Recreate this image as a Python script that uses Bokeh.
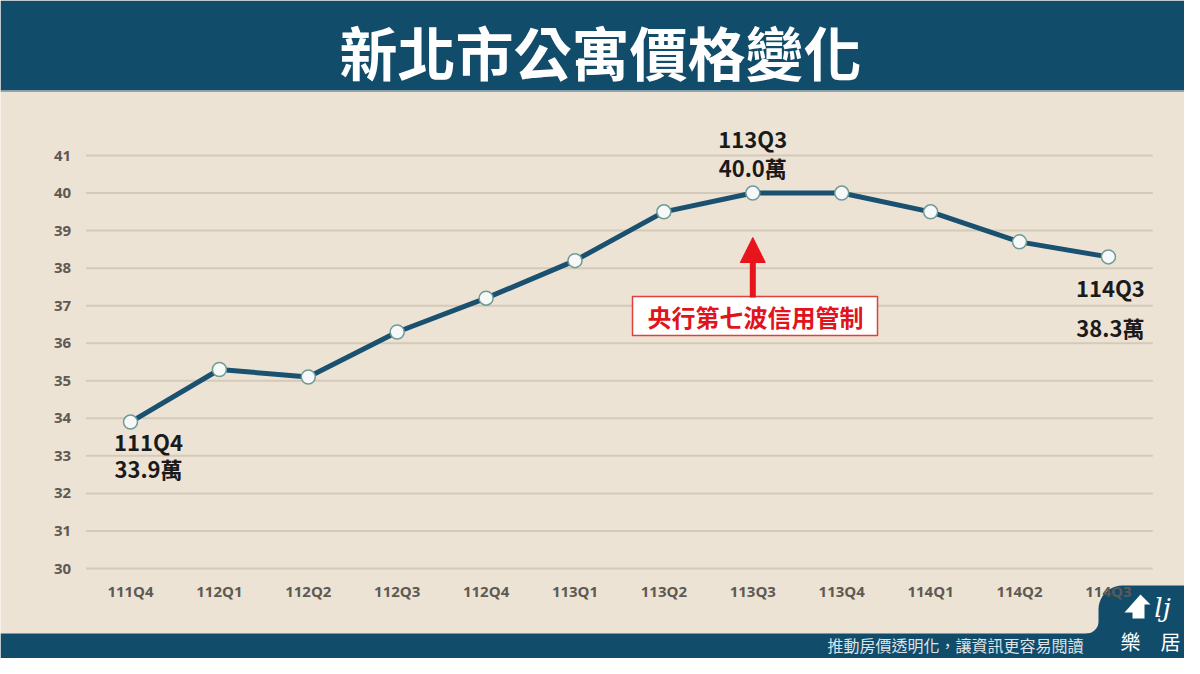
import numpy as np
from bokeh.plotting import figure
from bokeh.models import Range1d, LinearAxis, FixedTicker, Arrow, NormalHead
from bokeh.core.properties import value
from bokeh.embed import file_html
from bokeh.resources import INLINE

# ---------------- data ----------------
title_text = "新北市公寓價格變化"
quarters = ["111Q4", "112Q1", "112Q2", "112Q3", "112Q4", "113Q1",
            "113Q2", "113Q3", "113Q4", "114Q1", "114Q2", "114Q3"]
prices = [33.9, 35.3, 35.1, 36.3, 37.2, 38.2, 39.5, 40.0, 40.0, 39.5, 38.7, 38.3]
y_ticks = [30, 31, 32, 33, 34, 35, 36, 37, 38, 39, 40, 41]
labelled_points = [0, 7, 11]
note_text = "央行第七波信用管制"
note_index = 7
footer_text = "推動房價透明化，讓資訊更容易閱讀"
brand_chars = ["樂", "居"]
unit = "萬"

# ---------------- layout constants (pixels) ----------------
W, H = 1184, 658
X0_PX, DX_PX = 130.0, 88.9      # screen x of first category, px per category
Y30_PX, PPU = 568.0, 37.545     # screen y of value 30, px per unit

BG = "#ECE3D4"
NAVY = "#124C6B"
LINE = "#1A5070"
GRID = "#D3CABA"
RED = "#E8141B"
TICK = "#5E5953"
CJK = "Noto Sans CJK TC"


def dx(px):
    return (px - X0_PX) / DX_PX


def dy(py):
    return 30 + (Y30_PX - py) / PPU


p = figure(width=W, height=H,
           x_range=Range1d(dx(0), dx(W)), y_range=Range1d(dy(H), dy(0)),
           x_axis_type=None, y_axis_type=None,
           output_backend="svg", toolbar_location=None, min_border=0)
p.background_fill_color = BG
p.border_fill_color = BG
p.outline_line_color = None

# banner
p.quad(left=dx(0), right=dx(W), top=dy(0), bottom=dy(90), fill_color=NAVY, line_color=None)
p.quad(left=dx(0), right=dx(W), top=dy(90), bottom=dy(91.5), fill_color="#8FA6B2", line_color=None)
p.text(x=[dx(600)], y=[dy(50)], text=[title_text], text_align="center", text_baseline="middle",
       text_font=value(CJK), text_font_style="bold", text_font_size="58px", text_color="white")

# gridlines
p.segment(x0=-0.5, x1=len(quarters) - 0.5, y0=y_ticks, y1=y_ticks, line_color=GRID, line_width=2)

# axes (fixed inside frame)
yaxis = LinearAxis(fixed_location=-0.5, ticker=FixedTicker(ticks=y_ticks))
xaxis = LinearAxis(fixed_location=y_ticks[0], ticker=FixedTicker(ticks=list(range(len(quarters)))),
                   major_label_overrides={i: q for i, q in enumerate(quarters)})
for ax, standoff, fs in ((yaxis, 15, "15px"), (xaxis, 12, "15px")):
    ax.axis_line_color = None
    ax.major_tick_line_color = None
    ax.minor_tick_line_color = None
    ax.major_tick_in = 0
    ax.major_tick_out = 0
    ax.major_label_standoff = standoff
    ax.major_label_text_font = "Open Sans"
    ax.major_label_text_font_style = "bold"
    ax.major_label_text_font_size = fs
    ax.major_label_text_color = TICK
p.add_layout(yaxis, "left")
p.add_layout(xaxis, "below")

# data line and markers
xs = list(range(len(quarters)))
p.line(xs, prices, line_color=LINE, line_width=5)
p.scatter(xs, prices, size=14, fill_color="#F6F9F7", line_color="#6F9B97", line_width=1.5)

# point labels
label_offsets = {0: ((18, 19), (18, 46)), 7: ((0, -55), (0, -26)), 11: ((2, 30), (2, 70))}
for i in labelled_points:
    (ox1, oy1), (ox2, oy2) = label_offsets[i]
    p.text(x=[i], y=[prices[i]], text=[quarters[i]], x_offset=ox1, y_offset=oy1,
           text_align="center", text_baseline="middle", text_font=value(CJK),
           text_font_style="bold", text_font_size="22px", text_color="#1A1A1A")
    p.text(x=[i], y=[prices[i]], text=[f"{prices[i]:.1f}{unit}"], x_offset=ox2, y_offset=oy2,
           text_align="center", text_baseline="middle", text_font=value(CJK),
           text_font_style="bold", text_font_size="22px", text_color="#1A1A1A")

# annotation: arrow + boxed note
p.add_layout(Arrow(end=NormalHead(size=25, fill_color=RED, line_color=RED),
                   x_start=note_index, y_start=dy(297), x_end=note_index, y_end=dy(237),
                   line_color=RED, line_width=6))
p.quad(left=dx(632), right=dx(877), top=dy(296), bottom=dy(335),
       fill_color="white", line_color="#E0403A", line_width=1.5)
p.text(x=[dx(755)], y=[dy(316)], text=[note_text], text_align="center", text_baseline="middle",
       text_font=value(CJK), text_font_style="bold", text_font_size="24px", text_color="#E0141C")

# footer band and tab
p.quad(left=dx(0), right=dx(W), top=dy(633), bottom=dy(H), fill_color=NAVY, line_color=None)
t1 = np.linspace(0, np.pi / 2, 12)
r1, c1 = 12, (1086, 621)
r2, c2 = 24, (1122, 609)
tab_px = [(c1[0] + r1 * np.sin(t), c1[1] + r1 * np.cos(t)) for t in t1]
tab_px += [(c2[0] - r2 * np.cos(t), c2[1] - r2 * np.sin(t)) for t in t1]
tab_px += [(W, 585), (W, H), (1086, H)]
p.patch([dx(a) for a, b in tab_px], [dy(b) for a, b in tab_px], fill_color=NAVY, line_color=None)

p.text(x=[dx(1083)], y=[dy(644)], text=[footer_text], text_align="right", text_baseline="middle",
       text_font=value(CJK), text_font_size="16px", text_color="#DDE3E7")
p.text(x=[dx(1130), dx(1170)], y=[dy(641), dy(641)], text=brand_chars, text_align="center",
       text_baseline="middle", text_font=value(CJK), text_font_size="20px", text_color="white")

# logo mark
roof_px = [(1124, 612), (1140, 594), (1150, 604), (1144, 604), (1144, 618), (1132, 618), (1132, 612)]
p.patch([dx(a) for a, b in roof_px], [dy(b) for a, b in roof_px], fill_color="white", line_color=None)
p.text(x=[dx(1162)], y=[dy(607)], text=["lj"], text_align="center", text_baseline="middle",
       text_font=value("DejaVu Serif"), text_font_style="italic", text_font_size="26px",
       text_color="white")

open("out.html", "w").write(file_html(p, INLINE))
